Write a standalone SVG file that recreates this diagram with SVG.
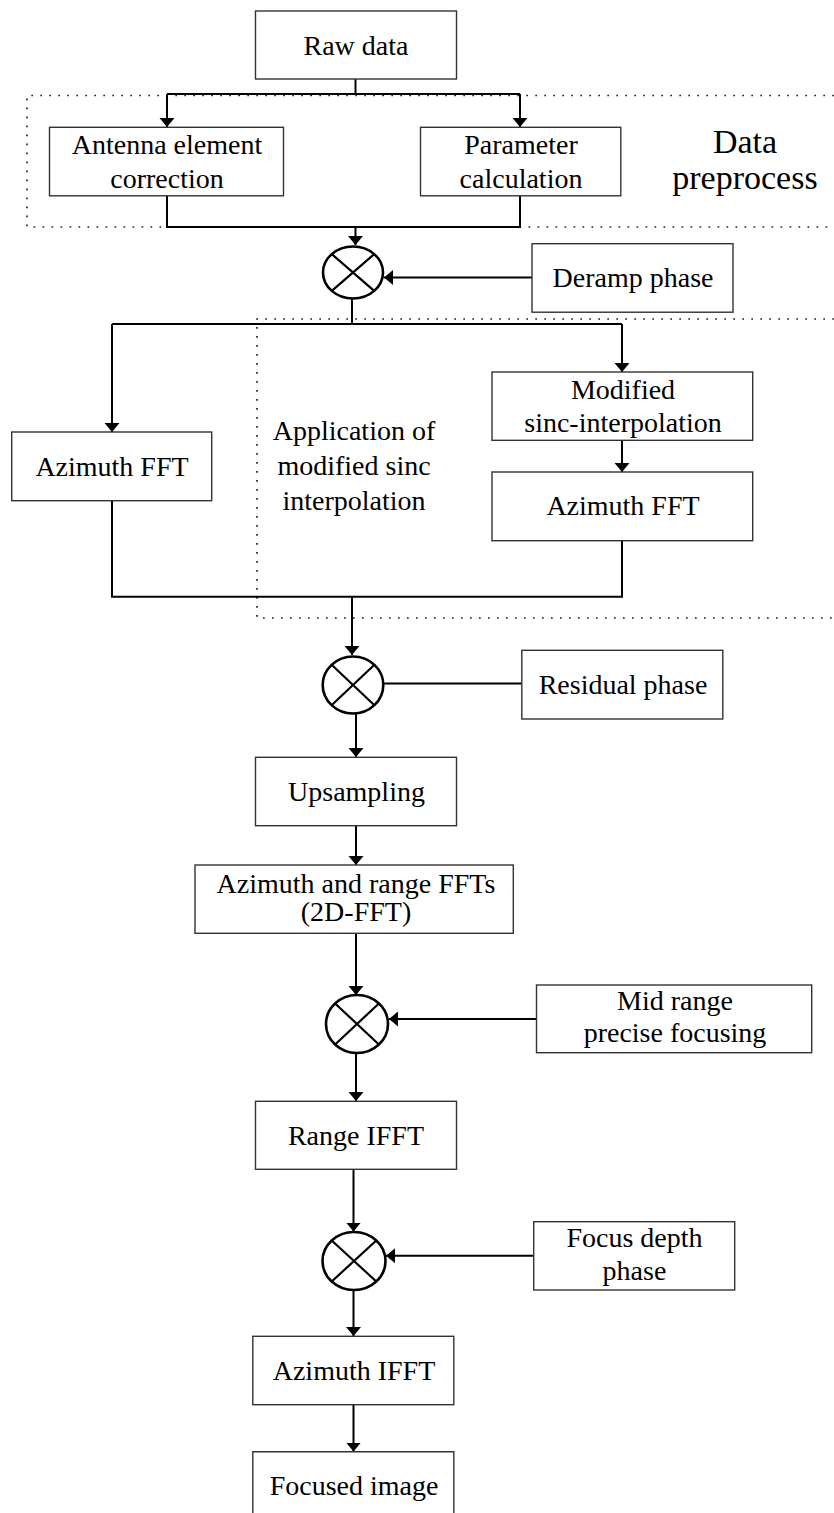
<svg xmlns="http://www.w3.org/2000/svg" width="834" height="1513" viewBox="0 0 834 1513">
<defs>
<marker id="arr" markerUnits="userSpaceOnUse" markerWidth="10" markerHeight="16" refX="9" refY="7.5" orient="auto">
<path d="M0,0 L9,7.5 L0,15 z" fill="#000"/>
</marker>
<style>
.box{fill:#fff;stroke:#333;stroke-width:1.4}
.t{font-family:"Liberation Serif","Times New Roman",serif;font-size:28px;fill:#000;text-anchor:middle}
.big{font-size:34px}
.c{fill:none;stroke:#000;stroke-width:2}
.ca{fill:none;stroke:#000;stroke-width:2;marker-end:url(#arr)}
.dot{fill:none;stroke:#222;stroke-width:1.7;stroke-dasharray:1.7 7.3}
.mul{fill:#fff;stroke:#000;stroke-width:2.6}
.x{stroke:#000;stroke-width:2.2}
</style>
</defs>
<rect width="834" height="1513" fill="#fff"/>

<g id="regions">
<path class="dot" d="M834,95.5 H27 V227 H834"/>
<path class="dot" d="M834,319 H257 V618 H834"/>
</g>

<g id="connectors">
<path class="c" d="M355.5,79 V94"/>
<path class="c" d="M167,94 H520"/>
<path class="ca" d="M167,94 V127"/>
<path class="ca" d="M520,94 V127"/>
<path class="c" d="M167,196 V227 H520 V196"/>
<path class="ca" d="M355.5,227 V245"/>
<path class="ca" d="M532,277.5 H384"/>
<path class="c" d="M352,298.5 V324"/>
<path class="c" d="M112,324 H622"/>
<path class="ca" d="M112,324 V432"/>
<path class="ca" d="M622,324 V372"/>
<path class="ca" d="M622,440.5 V472"/>
<path class="c" d="M112,500.5 V596.7 H622 V541"/>
<path class="ca" d="M352,596.7 V655"/>
<path class="c" d="M383.3,683.5 H521.8"/>
<path class="ca" d="M356,714 V757"/>
<path class="ca" d="M356,826 V865"/>
<path class="ca" d="M356,933.5 V995"/>
<path class="ca" d="M536.5,1019 H389"/>
<path class="ca" d="M356,1053 V1101"/>
<path class="ca" d="M353.5,1169.5 V1231.5"/>
<path class="ca" d="M533.7,1255.7 H386"/>
<path class="ca" d="M353.5,1290 V1336"/>
<path class="ca" d="M353.5,1405 V1451.5"/>
</g>

<g id="raw-data">
<rect class="box" x="255.5" y="11" width="201" height="68"/>
<text class="t" x="356" y="55">Raw data</text>
</g>
<g id="antenna">
<rect class="box" x="49.5" y="127.3" width="234" height="68.5"/>
<text class="t" x="167" y="154">Antenna element</text>
<text class="t" x="167" y="187.5">correction</text>
</g>
<g id="parameter">
<rect class="box" x="420.5" y="127.3" width="200.3" height="68.5"/>
<text class="t" x="521" y="154">Parameter</text>
<text class="t" x="521" y="187.5">calculation</text>
</g>
<g id="data-preprocess">
<text class="t big" x="745" y="152.5">Data</text>
<text class="t big" x="745" y="188.5">preprocess</text>
</g>
<g id="mult1">
<ellipse class="mul" cx="353" cy="272.5" rx="30" ry="26"/>
<path class="x" d="M331.8,254.1 L374.2,290.9 M374.2,254.1 L331.8,290.9"/>
</g>
<g id="deramp">
<rect class="box" x="532" y="243.7" width="201" height="68.5"/>
<text class="t" x="633" y="287">Deramp phase</text>
</g>
<g id="azfft-left">
<rect class="box" x="11.7" y="432" width="200" height="68.7"/>
<text class="t" x="112" y="476">Azimuth FFT</text>
</g>
<g id="application-label">
<text class="t" x="354" y="440">Application of</text>
<text class="t" x="354" y="475">modified sinc</text>
<text class="t" x="354" y="509.5">interpolation</text>
</g>
<g id="modsinc">
<rect class="box" x="492" y="372" width="260.7" height="68.3"/>
<text class="t" x="623" y="398.5">Modified</text>
<text class="t" x="623" y="432">sinc-interpolation</text>
</g>
<g id="azfft-right">
<rect class="box" x="492" y="472" width="260.7" height="68.7"/>
<text class="t" x="623" y="515">Azimuth FFT</text>
</g>
<g id="mult2">
<ellipse class="mul" cx="353" cy="685" rx="30.3" ry="28.5"/>
<path class="x" d="M331.6,664.8 L374.4,705.2 M374.4,664.8 L331.6,705.2"/>
</g>
<g id="residual">
<rect class="box" x="521.8" y="650.3" width="201" height="68.7"/>
<text class="t" x="623" y="693.5">Residual phase</text>
</g>
<g id="upsampling">
<rect class="box" x="255.5" y="757.3" width="201" height="68.4"/>
<text class="t" x="356.5" y="800.5">Upsampling</text>
</g>
<g id="az-range-fft">
<rect class="box" x="195" y="865" width="318.3" height="68.3"/>
<text class="t" x="356" y="893">Azimuth and range FFTs</text>
<text class="t" x="356" y="921">(2D-FFT)</text>
</g>
<g id="mult3">
<ellipse class="mul" cx="357" cy="1024" rx="31" ry="29"/>
<path class="x" d="M335.1,1003.5 L378.9,1044.5 M378.9,1003.5 L335.1,1044.5"/>
</g>
<g id="mid-range">
<rect class="box" x="536.5" y="985" width="275.2" height="67.7"/>
<text class="t" x="675" y="1010">Mid range</text>
<text class="t" x="675" y="1042">precise focusing</text>
</g>
<g id="range-ifft">
<rect class="box" x="255.5" y="1101.3" width="201" height="68"/>
<text class="t" x="356" y="1145">Range IFFT</text>
</g>
<g id="mult4">
<ellipse class="mul" cx="354" cy="1261" rx="31.5" ry="29"/>
<path class="x" d="M331.7,1240.5 L376.3,1281.5 M376.3,1240.5 L331.7,1281.5"/>
</g>
<g id="focus-depth">
<rect class="box" x="533.7" y="1221.7" width="201" height="68.3"/>
<text class="t" x="634.5" y="1247">Focus depth</text>
<text class="t" x="634.5" y="1280">phase</text>
</g>
<g id="az-ifft">
<rect class="box" x="252.8" y="1336.3" width="201" height="68.4"/>
<text class="t" x="354" y="1380">Azimuth IFFT</text>
</g>
<g id="focused-image">
<path class="box" d="M252.8,1520 V1451.7 H453.8 V1520"/>
<text class="t" x="354" y="1494.5">Focused image</text>
</g>
</svg>
